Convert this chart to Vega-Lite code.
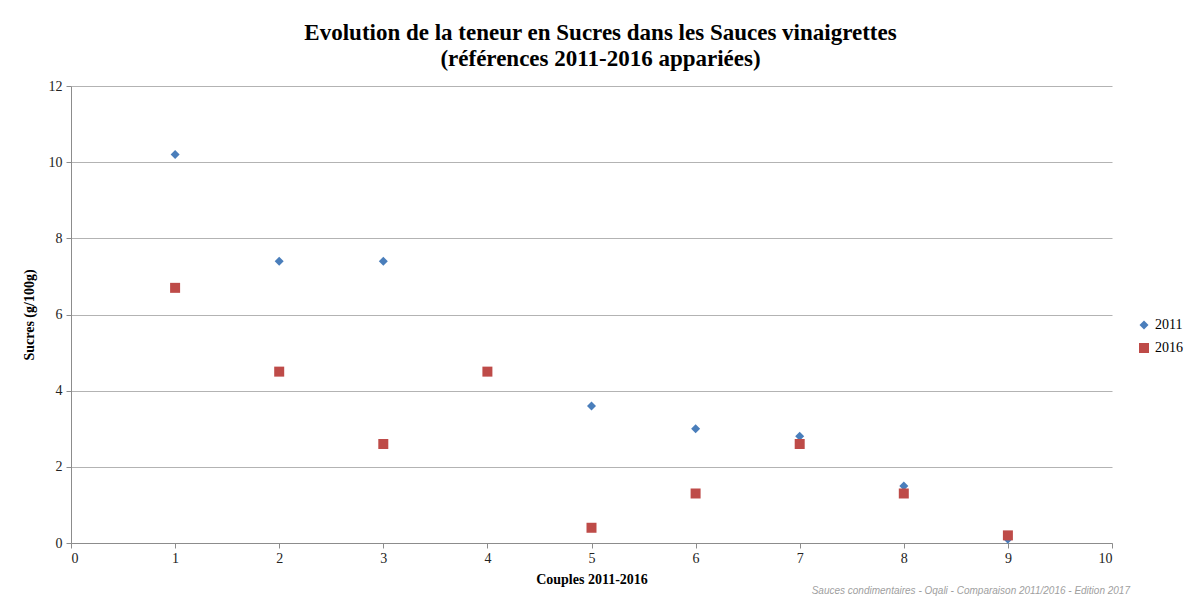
{
  "$schema": "https://vega.github.io/schema/vega-lite/v6.json",
  "autosize": "none",
  "width": 1041,
  "height": 457,
  "padding": {"left": 71, "top": 86, "right": 75, "bottom": 56},
  "background": "white",
  "title": {
    "text": ["Evolution de la teneur en Sucres dans les Sauces vinaigrettes", "(références 2011-2016 appariées)"],
    "font": "Liberation Serif",
    "fontSize": 23,
    "fontWeight": "bold",
    "color": "#000000",
    "anchor": "middle",
    "dx": 9,
    "offset": 8,
    "lineHeight": 26
  },
  "config": {
    "view": {"stroke": null},
    "font": "Liberation Serif"
  },
  "datasets": {
    "points": [
      {"couple": 1, "annee": "2011", "sucres": 10.2},
      {"couple": 2, "annee": "2011", "sucres": 7.4},
      {"couple": 3, "annee": "2011", "sucres": 7.4},
      {"couple": 4, "annee": "2011", "sucres": 4.5},
      {"couple": 5, "annee": "2011", "sucres": 3.6},
      {"couple": 6, "annee": "2011", "sucres": 3.0},
      {"couple": 7, "annee": "2011", "sucres": 2.8},
      {"couple": 8, "annee": "2011", "sucres": 1.5},
      {"couple": 9, "annee": "2011", "sucres": 0.1},
      {"couple": 1, "annee": "2016", "sucres": 6.7},
      {"couple": 2, "annee": "2016", "sucres": 4.5},
      {"couple": 3, "annee": "2016", "sucres": 2.6},
      {"couple": 4, "annee": "2016", "sucres": 4.5},
      {"couple": 5, "annee": "2016", "sucres": 0.4},
      {"couple": 6, "annee": "2016", "sucres": 1.3},
      {"couple": 7, "annee": "2016", "sucres": 2.6},
      {"couple": 8, "annee": "2016", "sucres": 1.3},
      {"couple": 9, "annee": "2016", "sucres": 0.2}
    ],
    "note": [
      {"couple": 10, "sucres": 0, "texte": "Sauces condimentaires - Oqali - Comparaison 2011/2016 - Edition 2017"}
    ]
  },
  "layer": [
    {
      "data": {"name": "points"},
      "mark": {"type": "point", "filled": true, "opacity": 1},
      "encoding": {
        "x": {
          "field": "couple", "type": "quantitative",
          "scale": {"domain": [0, 10], "nice": false, "zero": false},
          "axis": {
            "title": "Couples 2011-2016",
            "titleFont": "Liberation Serif", "titleFontSize": 14, "titleFontWeight": "bold", "titleColor": "#000000",
            "titlePadding": 7,
            "values": [0,1,2,3,4,5,6,7,8,9,10],
            "format": "d",
            "labelFont": "Liberation Serif", "labelFontSize": 14, "labelColor": "#222222",
            "grid": false,
            "domainColor": "#8c8c8c", "tickColor": "#8c8c8c", "tickSize": 5, "labelPadding": 3
          }
        },
        "y": {
          "field": "sucres", "type": "quantitative",
          "scale": {"domain": [0, 12], "nice": false},
          "axis": {
            "title": "Sucres (g/100g)",
            "titleFont": "Liberation Serif", "titleFontSize": 14, "titleFontWeight": "bold", "titleColor": "#000000",
            "titlePadding": 12,
            "values": [0,2,4,6,8,10,12],
            "format": "d",
            "labelFont": "Liberation Serif", "labelFontSize": 14, "labelColor": "#222222",
            "grid": true, "gridColor": "#b3b3b3", "gridWidth": 1,
            "domainColor": "#8c8c8c", "tickColor": "#8c8c8c", "tickSize": 5, "labelPadding": 4
          }
        },
        "shape": {
          "field": "annee", "type": "nominal",
          "scale": {"domain": ["2011", "2016"], "range": ["diamond", "square"]},
          "legend": null
        },
        "size": {
          "field": "annee", "type": "nominal",
          "scale": {"domain": ["2011", "2016"], "range": [81, 100]},
          "legend": null
        },
        "color": {
          "field": "annee", "type": "nominal",
          "scale": {"domain": ["2011", "2016"], "range": ["#4a7ebb", "#be4b48"]},
          "legend": {
            "title": null,
            "orient": "none",
            "legendX": 1066,
            "legendY": 232,
            "labelFont": "Liberation Serif",
            "labelFontSize": 14,
            "labelColor": "#000000",
            "rowPadding": 9,
            "symbolOpacity": 1
          }
        }
      }
    },
    {
      "data": {"name": "note"},
      "mark": {"type": "text", "align": "right", "baseline": "middle", "fontStyle": "italic", "font": "Liberation Sans", "fontSize": 10, "color": "#a0a0a0", "dx": 18, "dy": 48},
      "encoding": {
        "x": {"field": "couple", "type": "quantitative"},
        "y": {"field": "sucres", "type": "quantitative"},
        "text": {"field": "texte"}
      }
    }
  ]
}
